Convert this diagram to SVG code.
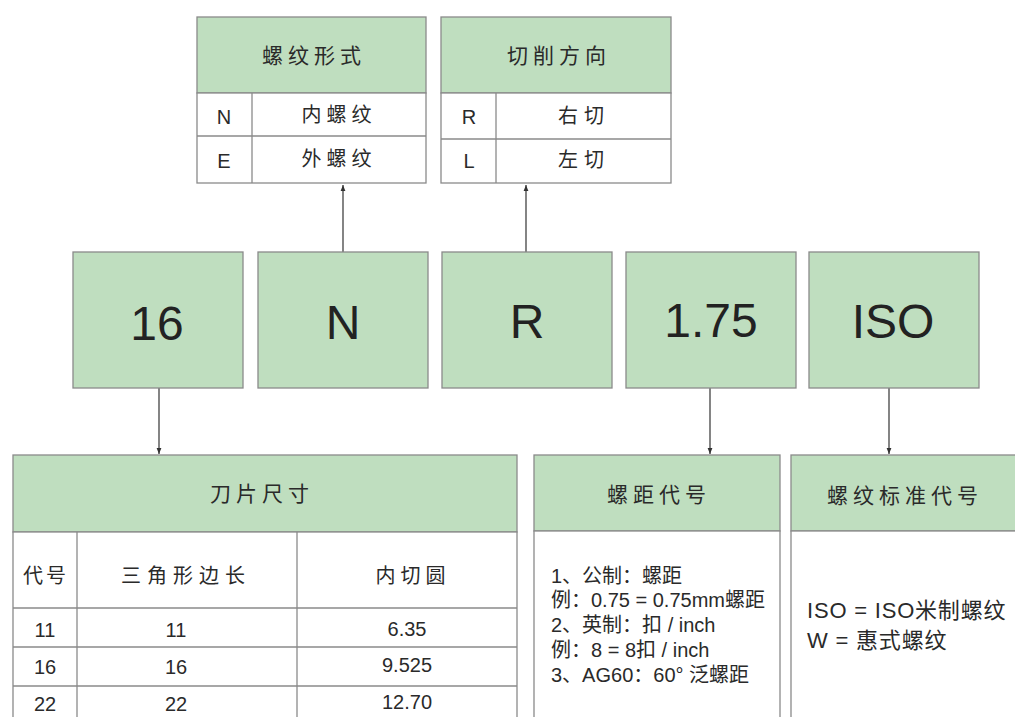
<svg xmlns="http://www.w3.org/2000/svg" width="1015" height="717" viewBox="0 0 1015 717">
<defs>
<marker id="ah" viewBox="0 0 10 10" refX="10" refY="5" markerWidth="6" markerHeight="6" markerUnits="userSpaceOnUse" orient="auto"><path d="M0,1 L10,5 L0,9 Z" fill="#333"/></marker>
<style>
.g{fill:#bfdebf;stroke:#8a8a8a;stroke-width:1.3}
.w{fill:#fff;stroke:#8a8a8a;stroke-width:1.3}
.l{stroke:#8a8a8a;stroke-width:1.3;fill:none}
.c{stroke:#333;stroke-width:1.2;fill:none}
text{fill:#2a2a2a;font-family:"Liberation Sans","Noto Sans CJK SC",sans-serif}
.h{font-size:21px;letter-spacing:5px;text-anchor:middle;dominant-baseline:central}
.t{font-size:20px;text-anchor:middle;dominant-baseline:central}
.b{font-size:48px;text-anchor:middle;dominant-baseline:central;fill:#222}
.s{font-size:20px;dominant-baseline:central}
.m{font-size:22px;letter-spacing:0.8px;dominant-baseline:central}
</style>
</defs>
<rect width="1015" height="717" fill="#fff"/>
<g id="connectors">
<line class="c" x1="343" y1="252" x2="343" y2="185" marker-end="url(#ah)"/>
<line class="c" x1="526" y1="252" x2="526" y2="185" marker-end="url(#ah)"/>
<line class="c" x1="159" y1="388" x2="159" y2="454" marker-end="url(#ah)"/>
<line class="c" x1="710" y1="388" x2="710" y2="454" marker-end="url(#ah)"/>
<line class="c" x1="889" y1="388" x2="889" y2="454" marker-end="url(#ah)"/>
</g>
<g id="thread-form">
<rect class="g" x="197" y="17" width="229" height="76"/>
<rect class="w" x="197" y="93" width="229" height="90"/>
<line class="l" x1="197" y1="136" x2="426" y2="136"/>
<line class="l" x1="252" y1="93" x2="252" y2="183"/>
<text class="h" x="314" y="55">螺纹形式</text>
<text class="t" x="224" y="117">N</text>
<text class="t" x="339" y="115" style="letter-spacing:5px">内螺纹</text>
<text class="t" x="224" y="161">E</text>
<text class="t" x="339" y="159" style="letter-spacing:5px">外螺纹</text>
</g>
<g id="cut-direction">
<rect class="g" x="441" y="17" width="230" height="76"/>
<rect class="w" x="441" y="93" width="230" height="90"/>
<line class="l" x1="441" y1="139" x2="671" y2="139"/>
<line class="l" x1="496" y1="93" x2="496" y2="183"/>
<text class="h" x="559" y="55">切削方向</text>
<text class="t" x="469" y="117">R</text>
<text class="t" x="584" y="116" style="letter-spacing:6px">右切</text>
<text class="t" x="469" y="161">L</text>
<text class="t" x="584" y="160" style="letter-spacing:6px">左切</text>
</g>
<g id="box-16"><rect class="g" x="73" y="252" width="170" height="136"/><text class="b" x="157" y="323">16</text></g>
<g id="box-N"><rect class="g" x="258" y="252" width="170" height="136"/><text class="b" x="343" y="322">N</text></g>
<g id="box-R"><rect class="g" x="442" y="252" width="170" height="136"/><text class="b" x="527" y="321">R</text></g>
<g id="box-175"><rect class="g" x="626" y="252" width="170" height="136"/><text class="b" x="711" y="320">1.75</text></g>
<g id="box-ISO"><rect class="g" x="809" y="252" width="170" height="136"/><text class="b" x="893" y="321">ISO</text></g>
<g id="insert-size">
<rect class="g" x="13" y="455" width="504" height="77"/>
<rect class="w" x="13" y="532" width="504" height="190"/>
<line class="l" x1="13" y1="608" x2="517" y2="608"/>
<line class="l" x1="13" y1="647" x2="517" y2="647"/>
<line class="l" x1="13" y1="686" x2="517" y2="686"/>
<line class="l" x1="77" y1="532" x2="77" y2="717"/>
<line class="l" x1="297" y1="532" x2="297" y2="717"/>
<text class="h" x="262" y="493">刀片尺寸</text>
<text class="t" x="46" y="576" style="letter-spacing:3px">代号</text>
<text class="t" x="186" y="576" style="letter-spacing:6px">三角形边长</text>
<text class="t" x="413" y="576" style="letter-spacing:5px">内切圆</text>
<text class="t" x="45" y="630">11</text><text class="t" x="176" y="630">11</text><text class="t" x="407" y="629">6.35</text>
<text class="t" x="45" y="667">16</text><text class="t" x="176" y="667">16</text><text class="t" x="407" y="665">9.525</text>
<text class="t" x="45" y="704">22</text><text class="t" x="176" y="704">22</text><text class="t" x="407" y="702">12.70</text>
</g>
<g id="pitch-code">
<rect class="g" x="534" y="455" width="246" height="76"/>
<rect class="w" x="534" y="531" width="246" height="191"/>
<text class="h" x="659" y="494">螺距代号</text>
<text class="s" x="551" y="576">1、公制：螺距</text>
<text class="s" x="551" y="600">例：0.75 = 0.75mm螺距</text>
<text class="s" x="551" y="625">2、英制：扣 / inch</text>
<text class="s" x="551" y="650">例：8 = 8扣 / inch</text>
<text class="s" x="551" y="675">3、AG60：60°  泛螺距</text>
</g>
<g id="thread-standard">
<rect class="g" x="791" y="455" width="230" height="76"/>
<rect class="w" x="791" y="531" width="230" height="191"/>
<text class="h" x="905" y="495">螺纹标准代号</text>
<text class="m" x="807" y="610">ISO = ISO米制螺纹</text>
<text class="m" x="807" y="640">W = 惠式螺纹</text>
</g>
</svg>
